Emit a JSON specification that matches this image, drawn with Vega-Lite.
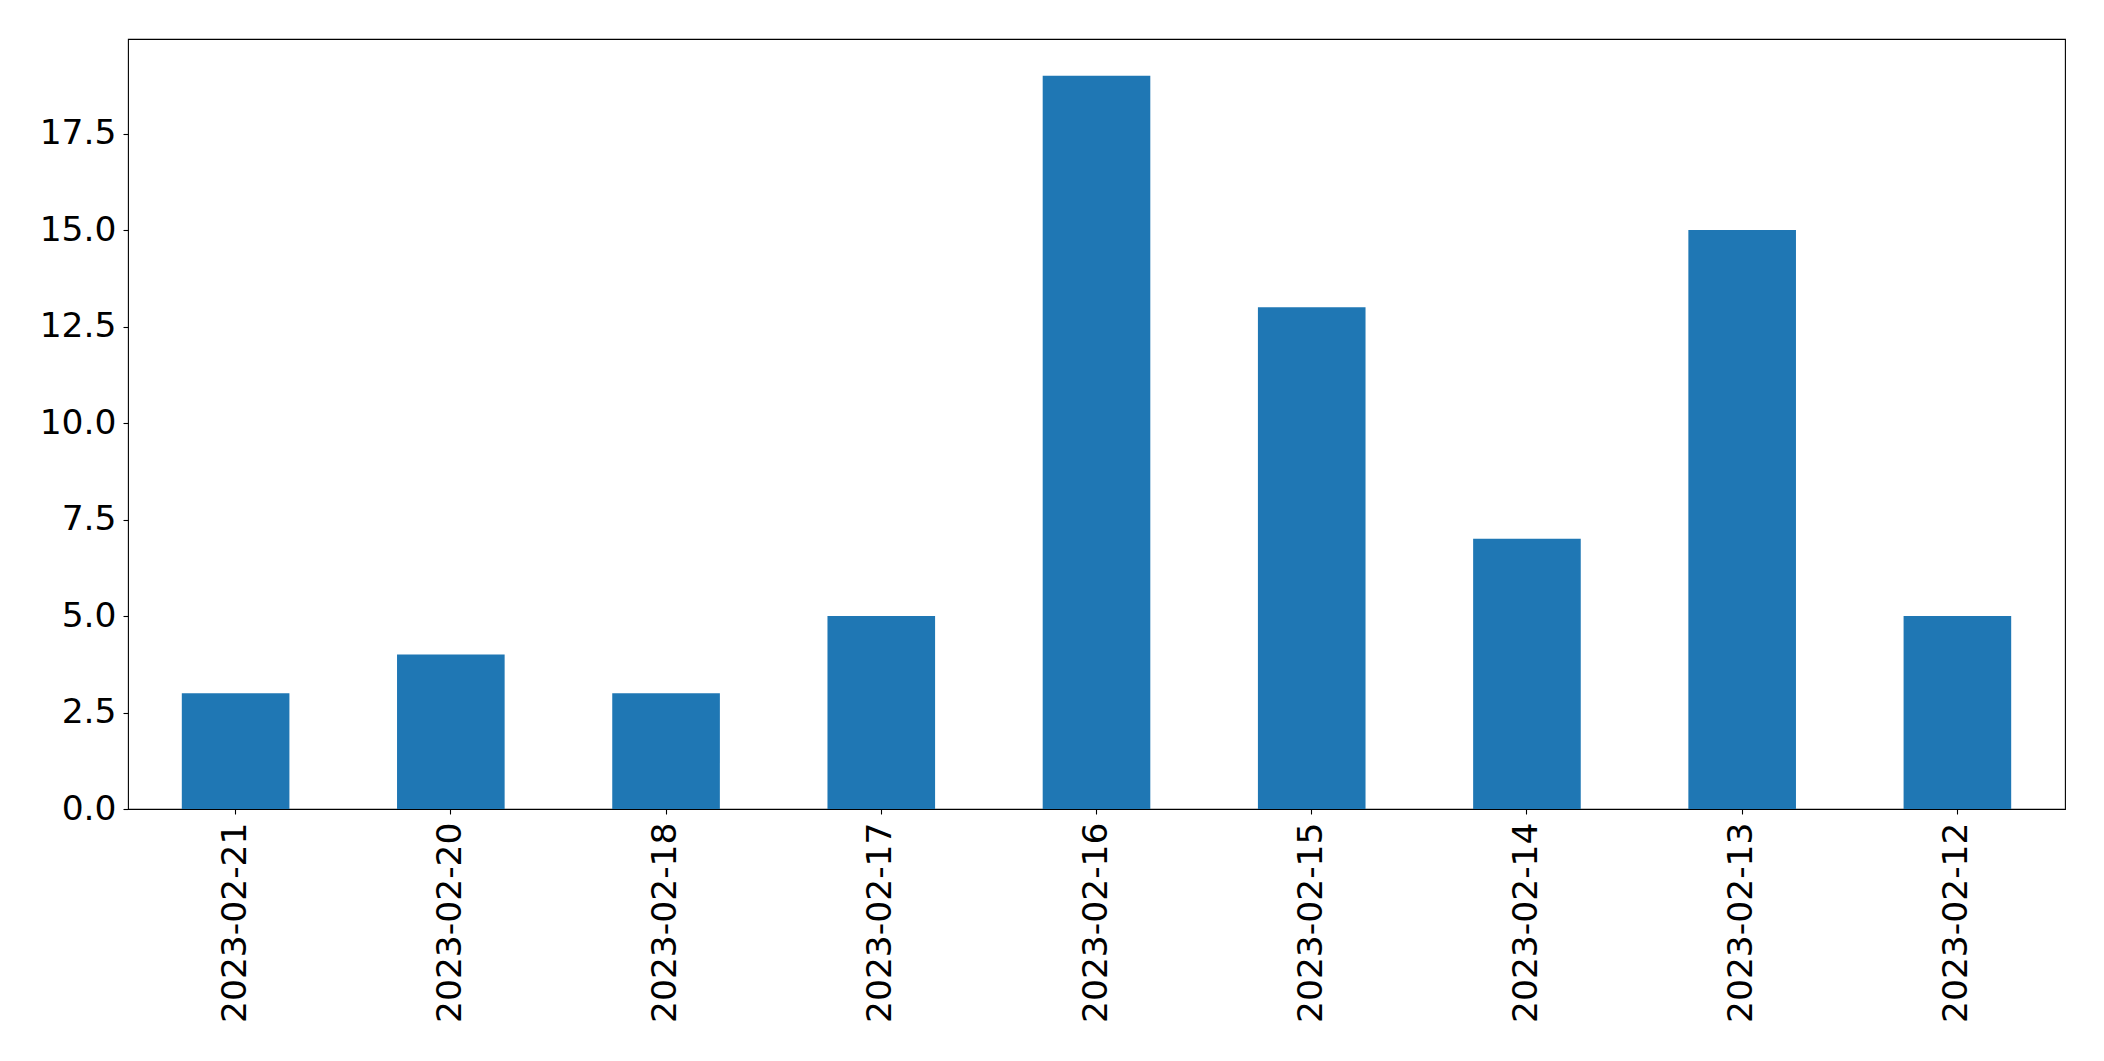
{
  "$schema": "https://vega.github.io/schema/vega-lite/v6.json",
  "width": 1937,
  "height": 770,
  "autosize": {"type": "none"},
  "padding": {"left": 128, "top": 39, "right": 39, "bottom": 252},
  "background": "white",
  "config": {
    "view": {"stroke": "black", "strokeWidth": 1.1},
    "font": "DejaVu Sans"
  },
  "data": {
    "values": [
      {"date": "2023-02-21", "count": 3},
      {"date": "2023-02-20", "count": 4},
      {"date": "2023-02-18", "count": 3},
      {"date": "2023-02-17", "count": 5},
      {"date": "2023-02-16", "count": 19},
      {"date": "2023-02-15", "count": 13},
      {"date": "2023-02-14", "count": 7},
      {"date": "2023-02-13", "count": 15},
      {"date": "2023-02-12", "count": 5}
    ]
  },
  "mark": {"type": "bar", "color": "#1f77b4"},
  "encoding": {
    "x": {
      "field": "date",
      "type": "nominal",
      "sort": null,
      "scale": {"paddingInner": 0.5, "paddingOuter": 0.25},
      "axis": {
        "title": null,
        "labelAngle": -90,
        "labelLimit": 0,
        "labelFont": "DejaVu Sans",
        "labelFontSize": 34.5,
        "labelColor": "black",
        "labelPadding": 8,
        "tickColor": "black",
        "tickSize": 5,
        "tickWidth": 1.1,
        "domain": false,
        "grid": false
      }
    },
    "y": {
      "field": "count",
      "type": "quantitative",
      "scale": {"domain": [0, 19.95], "nice": false, "zero": true},
      "axis": {
        "title": null,
        "values": [0, 2.5, 5, 7.5, 10, 12.5, 15, 17.5],
        "format": ".1f",
        "labelFont": "DejaVu Sans",
        "labelFontSize": 34.5,
        "labelColor": "black",
        "labelPadding": 7,
        "tickColor": "black",
        "tickSize": 5,
        "tickWidth": 1.1,
        "domain": false,
        "grid": false
      }
    }
  }
}
